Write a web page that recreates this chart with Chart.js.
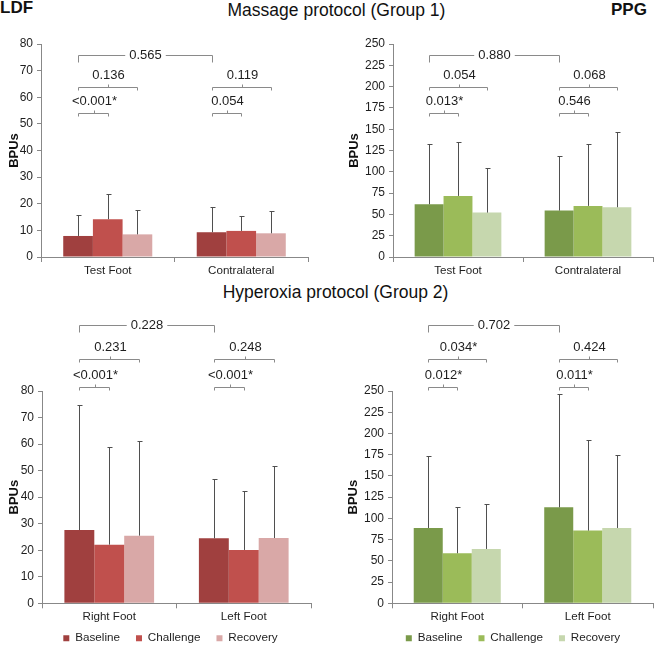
<!DOCTYPE html>
<html>
<head>
<meta charset="utf-8">
<title>LDF and PPG responses</title>
<script src="https://cdn.jsdelivr.net/npm/chart.js@4.4.1/dist/chart.umd.min.js"></script>
<style>
  body { margin: 0; width: 655px; height: 646px; overflow: hidden; background: #fff; position: relative; font-family: "Liberation Sans", Arial, sans-serif; color: #111; }
  .lbl { position: absolute; white-space: nowrap; line-height: 1; }
  canvas { position: absolute; }
</style>
</head>
<body>
<div class="lbl" style="left:0;top:-1px;font-weight:bold;font-size:17px">LDF</div>
<div class="lbl" style="left:611px;top:1px;font-weight:bold;font-size:17px">PPG</div>
<div class="lbl" style="left:0;width:673px;text-align:center;top:2px;font-size:17.5px">Massage protocol (Group 1)</div>
<div class="lbl" style="left:0;width:671px;text-align:center;top:284px;font-size:17.5px">Hyperoxia protocol (Group 2)</div>

<canvas id="ldfMassage" width="328" height="262" style="left:0;top:28px"></canvas>
<canvas id="ppgMassage" width="315" height="262" style="left:340px;top:28px"></canvas>
<canvas id="ldfHyper" width="328" height="365" style="left:0;top:300px"></canvas>
<canvas id="ppgHyper" width="316" height="365" style="left:339px;top:300px"></canvas>

<script>
const seriesNames = ['Baseline', 'Challenge', 'Recovery'];
const massageCats = ['Test Foot', 'Contralateral'];
const hyperCats = ['Right Foot', 'Left Foot'];

// means [cat0, cat1] per series, and the upward SD
const ldfMassageBaseline = [7.9, 9.3];
const ldfMassageChallenge = [14.2, 9.8];
const ldfMassageRecovery = [8.5, 8.9];
const ldfMassageBaselineSd = [8.0, 9.3];
const ldfMassageChallengeSd = [9.4, 5.5];
const ldfMassageRecoverySd = [9.1, 8.2];

const ppgMassageBaseline = [61.9, 54.5];
const ppgMassageChallenge = [71.7, 60.0];
const ppgMassageRecovery = [52.1, 58.4];
const ppgMassageBaselineSd = [70.5, 64.2];
const ppgMassageChallengeSd = [62.7, 73.2];
const ppgMassageRecoverySd = [52.5, 87.8];

const ldfHyperBaseline = [27.6, 24.5];
const ldfHyperChallenge = [22.1, 20.1];
const ldfHyperRecovery = [25.5, 24.6];
const ldfHyperBaselineSd = [47.1, 22.3];
const ldfHyperChallengeSd = [36.8, 22.3];
const ldfHyperRecoverySd = [35.8, 27.1];

const ppgHyperBaseline = [88.7, 113.0];
const ppgHyperChallenge = [58.9, 85.6];
const ppgHyperRecovery = [64.0, 88.7];
const ppgHyperBaselineSd = [84.4, 133.0];
const ppgHyperChallengeSd = [54.1, 106.7];
const ppgHyperRecoverySd = [52.6, 85.9];

// p values: across categories (baseline), baseline vs recovery, baseline vs challenge
const ldfMassageP = { across: '0.565', vsRecovery: ['0.136', '0.119'], vsChallenge: ['<0.001*', '0.054'] };
const ppgMassageP = { across: '0.880', vsRecovery: ['0.054', '0.068'], vsChallenge: ['0.013*', '0.546'] };
const ldfHyperP = { across: '0.228', vsRecovery: ['0.231', '0.248'], vsChallenge: ['<0.001*', '<0.001*'] };
const ppgHyperP = { across: '0.702', vsRecovery: ['0.034*', '0.424'], vsChallenge: ['0.012*', '0.011*'] };

const ldfTicksMax = 80, ldfStep = 10;
const ppgTicksMax = 250, ppgStep = 25;

const FONT = '"Liberation Sans", Arial, sans-serif';
Chart.defaults.font.family = FONT;
const redColors = ['#A0403F', '#C0504D', '#D9A8A7'];
const greenColors = ['#7A9A4A', '#9BBB59', '#C6D7AE'];
const axisGrey = '#888888';

const errorBars = {
  id: 'errorBars',
  afterDatasetsDraw(chart) {
    const { ctx, scales: { y } } = chart;
    ctx.save();
    ctx.strokeStyle = '#4f4f4f';
    ctx.lineWidth = 1;
    chart.data.datasets.forEach((ds, di) => {
      chart.getDatasetMeta(di).data.forEach((bar, i) => {
        const x = Math.round(bar.x) + 0.5;
        const top = Math.round(y.getPixelForValue(ds.data[i] + ds.sd[i])) + 0.5;
        ctx.beginPath();
        ctx.moveTo(x, bar.y);
        ctx.lineTo(x, top);
        ctx.moveTo(x - 2, top);
        ctx.lineTo(x + 3, top);
        ctx.stroke();
      });
    });
    ctx.restore();
  }
};

const brackets = {
  id: 'brackets',
  afterDraw(chart, args, o) {
    const { ctx, chartArea } = chart;
    const cx = (d, i) => Math.round(chart.getDatasetMeta(d).data[i].x) + 0.5;
    const [yA, yR, yC] = o.rows.map(r => Math.round(chartArea.top + r) + 0.5);
    const p = o.p;
    ctx.save();
    ctx.strokeStyle = '#8a8a8a';
    ctx.lineWidth = 1;
    ctx.fillStyle = '#1e1e1e';
    ctx.font = '13px ' + FONT;
    ctx.textAlign = 'center';
    ctx.textBaseline = 'middle';

    const x1 = cx(0, 0), x2 = cx(0, 1), xm = (x1 + x2) / 2;
    const half = ctx.measureText(p.across).width / 2 + 4;
    ctx.beginPath();
    ctx.moveTo(x1, yA + 7); ctx.lineTo(x1, yA); ctx.lineTo(xm - half, yA);
    ctx.moveTo(xm + half, yA); ctx.lineTo(x2, yA); ctx.lineTo(x2, yA + 7);
    ctx.stroke();
    ctx.fillText(p.across, xm, yA);

    [0, 1].forEach(i => {
      [[2, yR, p.vsRecovery[i]], [1, yC, p.vsChallenge[i]]].forEach(([d, yy, txt]) => {
        const a = cx(0, i), b = cx(d, i), m = Math.round((a + b) / 2) + 0.5;
        ctx.beginPath();
        ctx.moveTo(a, yy + 3); ctx.lineTo(a, yy); ctx.lineTo(b, yy); ctx.lineTo(b, yy + 3);
        ctx.moveTo(m, yy); ctx.lineTo(m, yy - 3);
        ctx.stroke();
        ctx.fillText(txt, m, yy - 12);
      });
    });
    ctx.restore();
  }
};

// nudge the legend without moving the plot
const legendShift = {
  id: 'legendShift',
  afterLayout(chart, args, o) {
    const lg = chart.legend;
    if (!lg) return;
    lg.left += o.dx || 0; lg.right += o.dx || 0;
    lg.top += o.dy || 0; lg.bottom += o.dy || 0;
  }
};

function makeChart(id, cfg) {
  const datasets = seriesNames.map((name, k) => ({
    label: name,
    data: cfg.means[k],
    sd: cfg.sds[k],
    backgroundColor: cfg.colors[k],
    borderWidth: 0,
    barPercentage: 1,
    categoryPercentage: 0.667
  }));
  return new Chart(document.getElementById(id), {
    type: 'bar',
    data: { labels: cfg.labels, datasets },
    options: {
      responsive: false,
      animation: false,
      layout: { padding: cfg.pad },
      plugins: {
        legend: {
          display: cfg.legend,
          position: 'bottom',
          labels: { boxWidth: 6, boxHeight: 6, padding: 16, color: '#1e1e1e', font: { size: 11.7 } }
        },
        tooltip: { enabled: false },
        brackets: { rows: cfg.rows, p: cfg.p },
        legendShift: { dx: cfg.legendDx || 0, dy: cfg.legendDy || 0 }
      },
      scales: {
        x: {
          afterFit: s => { s.height = cfg.xHeight; },
          grid: { display: true, drawOnChartArea: false, tickLength: 5, color: axisGrey },
          border: { color: axisGrey },
          ticks: { color: '#1e1e1e', padding: 2, font: { size: 11.6 } }
        },
        y: {
          min: 0,
          max: cfg.max,
          afterFit: s => { s.width = cfg.yWidth; },
          grid: { display: true, drawOnChartArea: false, tickLength: 4, color: axisGrey },
          border: { color: axisGrey },
          ticks: { stepSize: cfg.step, color: '#1e1e1e', padding: 4, font: { size: 12 } },
          title: { display: true, text: 'BPUs', color: '#111', padding: { top: 7, bottom: 0 }, font: { size: 13, weight: 'bold' } }
        }
      }
    },
    plugins: [errorBars, brackets, legendShift]
  });
}

makeChart('ldfMassage', {
  labels: massageCats,
  means: [ldfMassageBaseline, ldfMassageChallenge, ldfMassageRecovery],
  sds: [ldfMassageBaselineSd, ldfMassageChallengeSd, ldfMassageRecoverySd],
  colors: redColors, max: ldfTicksMax, step: ldfStep, p: ldfMassageP,
  rows: [11, 43, 69], legend: false,
  pad: { top: 16, right: 20, left: 0, bottom: 0 }, yWidth: 41, xHeight: 33
});

makeChart('ppgMassage', {
  labels: massageCats,
  means: [ppgMassageBaseline, ppgMassageChallenge, ppgMassageRecovery],
  sds: [ppgMassageBaselineSd, ppgMassageChallengeSd, ppgMassageRecoverySd],
  colors: greenColors, max: ppgTicksMax, step: ppgStep, p: ppgMassageP,
  rows: [11, 43, 69], legend: false,
  pad: { top: 16, right: 2, left: 0, bottom: 0 }, yWidth: 53, xHeight: 33
});

makeChart('ldfHyper', {
  labels: hyperCats,
  means: [ldfHyperBaseline, ldfHyperChallenge, ldfHyperRecovery],
  sds: [ldfHyperBaselineSd, ldfHyperChallengeSd, ldfHyperRecoverySd],
  colors: redColors, max: ldfTicksMax, step: ldfStep, p: ldfHyperP,
  rows: [-66, -32, -4], legend: true, legendDx: 15, legendDy: -11,
  pad: { top: 91, right: 17, left: 0, bottom: 0 }, yWidth: 42, xHeight: 24
});

makeChart('ppgHyper', {
  labels: hyperCats,
  means: [ppgHyperBaseline, ppgHyperChallenge, ppgHyperRecovery],
  sds: [ppgHyperBaselineSd, ppgHyperChallengeSd, ppgHyperRecoverySd],
  colors: greenColors, max: ppgTicksMax, step: ppgStep, p: ppgHyperP,
  rows: [-66, -32, -4], legend: true, legendDx: 17, legendDy: -11,
  pad: { top: 91, right: 2, left: 0, bottom: 0 }, yWidth: 53, xHeight: 24
});
</script>
</body>
</html>
